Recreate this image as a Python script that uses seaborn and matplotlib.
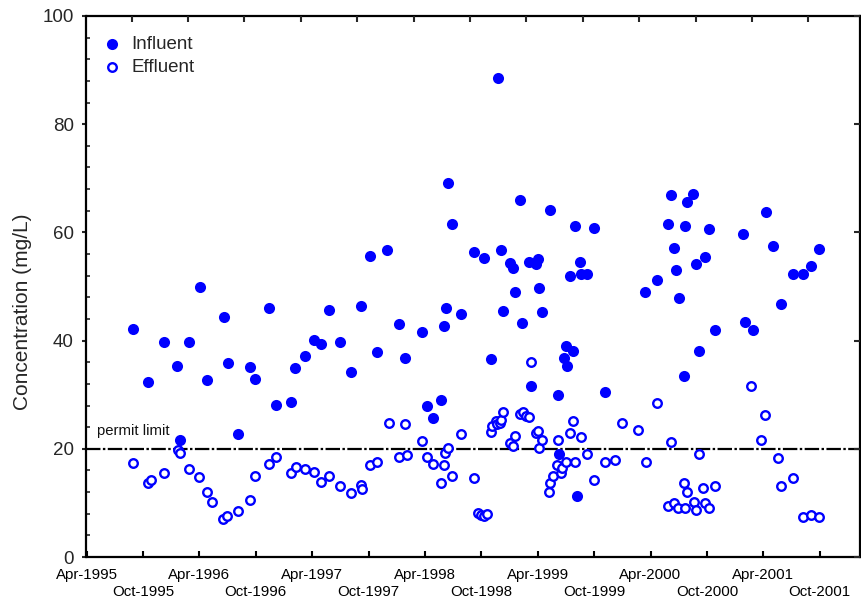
import matplotlib
matplotlib.use("Agg")
import matplotlib.pyplot as plt
import seaborn as sns
import pandas as pd

# ---- data (decimal year, concentration mg/L) ----
influent_time = [1995.664, 1995.791, 1995.933, 1996.054, 1996.163, 1996.252, 1996.314, 1996.083,
                 1996.465, 1996.500, 1996.595, 1996.698, 1996.746, 1996.872, 1996.926, 1997.059,
                 1997.100, 1997.191, 1997.271, 1997.331, 1997.402, 1997.493, 1997.599, 1997.685,
                 1997.759, 1997.827, 1997.918, 1998.022, 1998.078, 1998.226, 1998.273, 1998.326,
                 1998.397, 1998.415, 1998.433, 1998.457, 1998.486, 1998.572, 1998.681, 1998.770,
                 1998.832, 1998.902, 1998.929, 1998.944, 1999.000, 1999.033, 1999.051, 1999.089,
                 1999.115, 1999.175, 1999.192, 1999.233, 1999.251, 1999.263, 1999.284, 1999.361,
                 1999.426, 1999.441, 1999.479, 1999.499, 1999.514, 1999.532, 1999.559, 1999.579,
                 1999.594, 1999.621, 1999.638, 1999.691, 1999.745, 1999.851, 2000.203, 2000.312,
                 2000.401, 2000.436, 2000.454, 2000.472, 2000.504, 2000.543, 2000.560, 2000.578,
                 2000.631, 2000.649, 2000.684, 2000.729, 2000.773, 2000.824, 2001.072, 2001.089,
                 2001.160, 2001.270, 2001.338, 2001.409, 2001.515, 2001.606, 2001.677, 2001.748]
influent_conc = [42.1, 32.4, 39.8, 35.3, 39.8, 50.0, 32.7, 21.7,
                 44.4, 35.9, 22.7, 35.1, 32.9, 46.1, 28.1, 28.7,
                 34.9, 37.2, 40.1, 39.4, 45.6, 39.8, 34.2, 46.4,
                 55.6, 37.9, 56.7, 43.1, 36.7, 41.6, 27.9, 25.7,
                 29.0, 42.7, 46.0, 69.2, 61.5, 44.9, 56.4, 55.3,
                 36.6, 88.6, 56.7, 45.4, 54.3, 53.4, 49.0, 65.9,
                 43.2, 54.5, 31.6, 54.1, 55.0, 49.7, 45.2, 64.1,
                 29.9, 19.1, 36.7, 39.0, 35.3, 51.9, 38.0, 61.1,
                 11.3, 54.5, 52.3, 52.3, 60.8, 30.5, 49.0, 51.2,
                 61.6, 66.9, 57.1, 53.1, 47.9, 33.5, 61.2, 65.6,
                 67.1, 54.2, 38.1, 55.5, 60.6, 42.0, 59.7, 43.5,
                 42.0, 63.8, 57.5, 46.8, 52.3, 52.3, 53.8, 56.9]

effluent_time = [1995.664, 1995.791, 1995.824, 1995.933, 1996.059, 1996.083, 1996.163, 1996.249,
                 1996.314, 1996.367, 1996.462, 1996.497, 1996.595, 1996.698, 1996.746, 1996.872,
                 1996.926, 1997.059, 1997.106, 1997.191, 1997.271, 1997.331, 1997.402, 1997.493,
                 1997.599, 1997.685, 1997.692, 1997.759, 1997.827, 1997.934, 1998.022, 1998.078,
                 1998.093, 1998.226, 1998.273, 1998.326, 1998.397, 1998.415, 1998.426, 1998.457,
                 1998.486, 1998.572, 1998.681, 1998.719, 1998.743, 1998.772, 1998.802, 1998.832,
                 1998.847, 1998.876, 1998.891, 1998.914, 1998.926, 1998.944, 1999.003, 1999.033,
                 1999.053, 1999.089, 1999.122, 1999.145, 1999.177, 1999.192, 1999.233, 1999.251,
                 1999.263, 1999.284, 1999.352, 1999.363, 1999.384, 1999.426, 1999.420, 1999.455,
                 1999.464, 1999.499, 1999.532, 1999.559, 1999.579, 1999.638, 1999.691, 1999.745,
                 1999.848, 1999.937, 1999.993, 2000.135, 2000.206, 2000.312, 2000.401, 2000.436,
                 2000.454, 2000.492, 2000.543, 2000.560, 2000.578, 2000.634, 2000.649, 2000.684,
                 2000.711, 2000.731, 2000.770, 2000.824, 2001.145, 2001.231, 2001.267, 2001.379,
                 2001.409, 2001.515, 2001.598, 2001.675, 2001.748]
effluent_conc = [17.3, 13.6, 14.2, 15.5, 19.8, 19.3, 16.2, 14.8,
                 12.1, 10.2, 7.1, 7.6, 8.5, 10.5, 15.0, 17.1,
                 18.5, 15.6, 16.7, 16.2, 15.8, 13.9, 15.0, 13.2,
                 11.8, 13.3, 12.5, 17.0, 17.6, 24.7, 18.5, 24.5,
                 18.8, 21.4, 18.5, 17.2, 13.6, 17.0, 19.3, 20.2,
                 15.0, 22.8, 14.6, 8.1, 7.8, 7.6, 7.9, 23.1,
                 24.2, 25.1, 24.6, 24.7, 25.3, 26.8, 21.0, 20.5,
                 22.4, 26.5, 26.8, 26.1, 25.9, 36.1, 22.9, 23.3,
                 20.2, 21.7, 12.1, 13.6, 15.0, 21.7, 17.0, 15.5,
                 16.4, 17.6, 23.0, 25.1, 17.6, 22.1, 19.1, 14.2,
                 17.6, 17.9, 24.8, 23.5, 17.6, 28.4, 9.5, 21.3,
                 9.9, 9.0, 13.6, 9.0, 12.1, 10.2, 8.7, 19.1,
                 12.8, 9.9, 9.1, 13.2, 31.6, 21.7, 26.2, 18.3,
                 13.2, 14.6, 7.4, 7.8, 7.4]

permit_limit = 20
tick_labels = ["Apr-1995", "Oct-1995", "Apr-1996", "Oct-1996", "Apr-1997", "Oct-1997",
               "Apr-1998", "Oct-1998", "Apr-1999", "Oct-1999", "Apr-2000", "Oct-2000",
               "Apr-2001", "Oct-2001"]

sns.set_style("ticks")
plt.rcParams['font.family'] = ['Liberation Sans', 'DejaVu Sans']

fig = plt.figure(figsize=(8.62, 6.03), dpi=100)
ax = fig.add_axes([86.5 / 862, 46 / 603, 773.5 / 862, 541 / 603])

blue = '#0000ff'
inf = pd.DataFrame({'t': influent_time, 'c': influent_conc})
eff = pd.DataFrame({'t': effluent_time, 'c': effluent_conc})

sns.scatterplot(data=inf, x='t', y='c', ax=ax, color=blue, s=64, linewidth=0,
                label='Influent', zorder=3)
sns.scatterplot(data=eff, x='t', y='c', ax=ax, color='white', edgecolor=blue, s=38,
                linewidth=1.7, label='Effluent', zorder=4)

ax.axhline(permit_limit, color='black', lw=1.6, linestyle=(0, (6.5, 1.1, 1.1, 1.1)), zorder=2)
ax.text(0.0142, 22.6, 'permit limit', transform=ax.get_yaxis_transform(),
        fontsize=10.7, va='baseline', ha='left', color='#111111')

x0 = 1995.25
x1 = x0 + 773.5 / 112.8
ax.set_xlim(x0, x1)
ax.set_ylim(0, 100)

xpos = [x0 + 0.5 * i for i in range(len(tick_labels))]
ax.set_xticks(xpos)
ax.set_xticklabels([lab if i % 2 == 0 else "\n" + lab for i, lab in enumerate(tick_labels)],
                   linespacing=1.25)
ax.tick_params(axis='x', direction='in', length=4, width=1.5, labelsize=10.8, pad=8,
               colors='black')

ax.set_yticks(range(0, 101, 20))
ax.set_yticks(range(0, 101, 4), minor=True)
ax.tick_params(axis='y', which='major', direction='out', length=3, width=1.5,
               labelsize=13.5, pad=6)
ax.tick_params(axis='y', which='minor', direction='in', length=3, width=1.2)
ax.set_xlabel('')
ax.set_ylabel('Concentration (mg/L)', fontsize=15)
ax.yaxis.set_label_coords(-0.071, 0.453)

for sp in ax.spines.values():
    sp.set_visible(True)
    sp.set_linewidth(1.6)
    sp.set_color('black')

# top (offset) ticks and right ticks
axt = ax.twiny()
axt.set_xlim(x0, x1)
axt.set_xticks([x0 + 0.4 + 0.5 * i for i in range(13)])
axt.tick_params(axis='x', direction='in', length=4, width=1.5, labeltop=False)
axr = ax.twinx()
axr.set_ylim(0, 100)
axr.set_yticks(range(0, 101, 20))
axr.tick_params(axis='y', direction='in', length=4, width=1.5, labelright=False)
for a in (axt, axr):
    for sp in a.spines.values():
        sp.set_visible(False)

leg = ax.legend(loc='upper left', bbox_to_anchor=(0.011, 0.978), frameon=False,
                fontsize=13.5, handlelength=1.0, handletextpad=0.55, labelspacing=0.32,
                borderpad=0.4, borderaxespad=0)

fig.savefig('out.png', dpi=100)
